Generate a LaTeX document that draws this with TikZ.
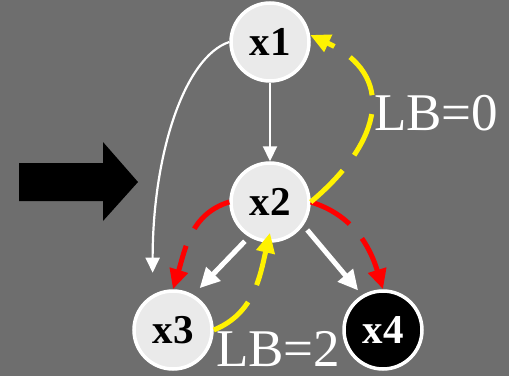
\documentclass[tikz,border=0pt]{standalone}
\usepackage{fontspec}
\setmainfont{Liberation Serif}
\usetikzlibrary{arrows.meta,positioning}
\definecolor{bggray}{HTML}{6E6E6E}
\definecolor{nodegray}{HTML}{EAEAEA}
\tikzset{
    state/.style = {draw=white, circle, line width=3.5pt, fill=nodegray,
        minimum size=78pt, inner sep=0pt,
        font=\bfseries\fontsize{41}{41}\selectfont},
    goal/.style = {state, fill=black, text=white},
    link/.style = {draw=white, line width=2.2pt, -{Triangle[length=15pt,width=14pt]}},
    boldlink/.style = {link, line width=5pt, -{Triangle[length=20pt,width=19pt]}},
    descend/.style = {draw=red, line width=5pt, dash pattern=on 45pt off 19pt,
        -{Triangle[length=20pt,width=18pt]}},
    backtrack/.style = {descend, draw=yellow},
    lbtext/.style = {text=white, inner sep=0pt, font=\fontsize{53}{53}\selectfont}
}

\begin{document}
\begin{tikzpicture}[x=1pt, y=1pt, on grid]
        \useasboundingbox (0,0) rectangle (509,376);
        \fill[bggray] (0,0) rectangle (509,376);
        % big arrow on the left
        \fill[black] (19,213) -- (103,213) -- (103,234) -- (138,194) -- (103,155) -- (103,175) -- (19,175) -- cycle;
        \node [state] (x1) at (270,334) {x1};
        \node [state, below=160pt of x1] (x2) {x2};
        \node [state, below left=128pt and 97pt of x2] (x3) {x3};
        \node [goal, below right=128pt and 113pt of x2] (x4) {x4};
        \draw[link] (x1) -- (x2);
        \draw[link, shorten >=22pt] (x1.west) .. controls +(-45,-15) and +(0,140) .. (x3.120);
        \draw[boldlink, shorten <=6pt, shorten >=9pt] (x2.239) -- (x3.60);
        \draw[boldlink, shorten <=6pt, shorten >=6pt] (x2.-35) -- (x4.121);
        \draw[descend] (x2.west) to[out=197, in=73] (x3.north);
        \draw[descend] (x2.east) to[out=-17, in=107] (x4.north);
        \draw[backtrack] (x2.east) to[out=40, in=-25, looseness=1.45] (x1.10);
        \draw[backtrack] (x3.east) to[out=22, in=-103] ([yshift=10pt]x2.south);
        \node [lbtext, anchor=base west] (lb0) at (374,246) {LB=0};
        \node [lbtext, anchor=base west] (lb2) at (216,10) {LB=2};
\end{tikzpicture}
\end{document}
